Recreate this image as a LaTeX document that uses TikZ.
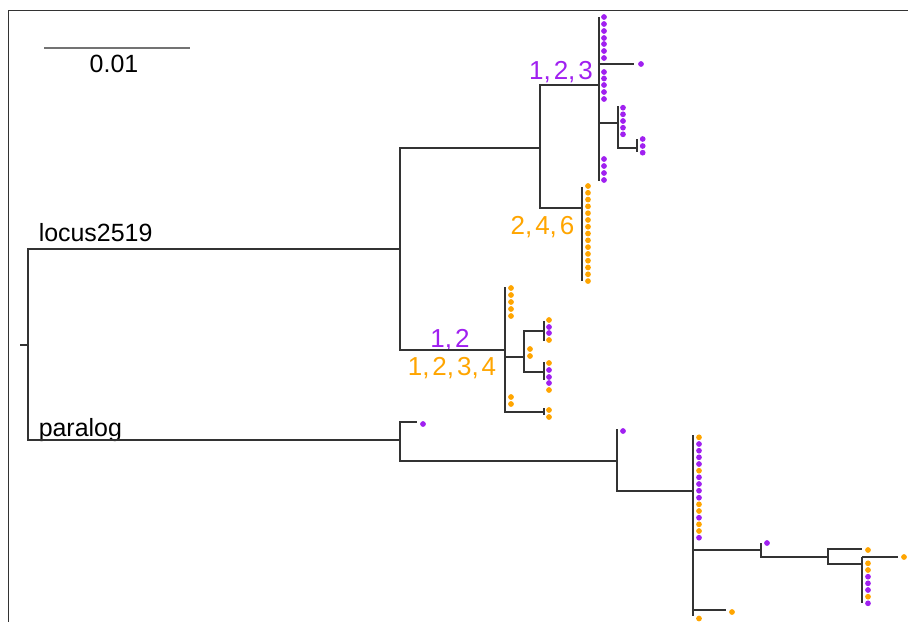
\documentclass[tikz,border=0pt]{standalone}
\usepackage{fontspec}
\setmainfont{Liberation Sans}[WordSpace=0.4]
\definecolor{pp}{HTML}{A020F0}
\definecolor{org}{HTML}{FFA500}
\newcommand\tipcol[2]{\foreach \yy/\cc in {#2}{\fill[\cc] (#1,\yy) circle[radius=2.15pt];}}
\begin{document}
\begin{tikzpicture}[x=0.75pt,y=-0.75pt,
  br/.style={line width=1pt,draw=black!80},
  frame/.style={line width=0.9pt,draw=black!80},
  lbl/.style={inner sep=0pt,font=\fontsize{18.7}{20}\selectfont},
  clbl/.style={inner sep=0pt,anchor=base,font=\fontsize{19.5}{21}\selectfont}]
\useasboundingbox (0,0) rectangle (908,622);
% frame
\coordinate (f1) at (8.3,622);
\coordinate (f2) at (8.3,10.7);
\coordinate (f3) at (908,10.7);
\draw[frame] (f1) -- (f2) -- (f3);
% scale bar
\coordinate (s1) at (44,48);
\coordinate (s2) at (190,48);
\draw[line width=1pt,draw=black!55] (s1) -- (s2);
\node[lbl,anchor=base] (sc) at (114,72) {0.01};
% labels
\node[lbl,anchor=base west] (lc) at (38.5,241) {locus2519};
\node[lbl,anchor=base west] (pl) at (38.5,436) {paralog};
\node[clbl,text=pp] (l123) at (561,79) {1, 2, 3};
\node[clbl,text=org] (l246) at (542.5,234) {2, 4, 6};
\node[clbl,text=pp] (l12) at (450,347) {1, 2};
\node[clbl,text=org] (l1234) at (452,375) {1, 2, 3, 4};
% internal nodes
\coordinate (Rs) at (20,345);
\coordinate (R) at (28,345);
\coordinate (L) at (400,249);
\coordinate (P) at (400,440);
\coordinate (A) at (540,148);
\coordinate (B) at (505,350);
\coordinate (C) at (599,85);
\coordinate (Ct) at (599,17);
\coordinate (Cb) at (599,181);
\coordinate (C1) at (634,64);
\coordinate (E) at (618,123);
\coordinate (Et) at (618,106);
\coordinate (F) at (637,148);
\coordinate (Ft) at (637,139);
\coordinate (Fb) at (637,152);
\coordinate (D) at (582,208);
\coordinate (Dt) at (582,187);
\coordinate (Db) at (582,281);
\coordinate (Bt) at (505,287);
\coordinate (G) at (524,357);
\coordinate (I) at (544,331);
\coordinate (It) at (544,321);
\coordinate (Ib) at (544,341);
\coordinate (J) at (544,372);
\coordinate (Jt) at (544,362);
\coordinate (Jb) at (544,380);
\coordinate (H) at (544,412);
\coordinate (Ht) at (544,408);
\coordinate (Hb) at (544,415);
\coordinate (P1) at (417,422);
\coordinate (K) at (617,461);
\coordinate (Kt) at (617,429);
\coordinate (M) at (693,491);
\coordinate (Mt) at (693,435);
\coordinate (Mb) at (693,616);
\coordinate (M1) at (726,610);
\coordinate (N) at (761,550);
\coordinate (Nt) at (761,543);
\coordinate (Q) at (828,557);
\coordinate (Q1) at (862,549);
\coordinate (S) at (862,564);
\coordinate (St) at (862,557);
\coordinate (Sb) at (862,603);
\coordinate (S1) at (898,557);
% branches
\draw[br] (Rs) -- (R);
\draw[br] (R) |- (L);
\draw[br] (R) |- (P);
\draw[br] (L) |- (A);
\draw[br] (L) |- (B);
\draw[br] (A) |- (C);
\draw[br] (A) |- (D);
\draw[br] (Ct) -- (Cb);
\draw[br] (C1 -| C) -- (C1);
\draw[br] (E -| C) -- (E);
\draw[br] (Et) -- (E) |- (F);
\draw[br] (Ft) -- (Fb);
\draw[br] (Dt) -- (Db);
\draw[br] (Bt) -- (B) |- (H);
\draw[br] (G -| B) -- (G);
\draw[br] (G) |- (I);
\draw[br] (G) |- (J);
\draw[br] (It) -- (Ib);
\draw[br] (Jt) -- (Jb);
\draw[br] (Ht) -- (Hb);
\draw[br] (P) |- (P1);
\draw[br] (P) |- (K);
\draw[br] (Kt) -- (K) |- (M);
\draw[br] (Mt) -- (Mb);
\draw[br] (N -| M) -- (N);
\draw[br] (M1 -| M) -- (M1);
\draw[br] (Nt) -- (N) |- (Q);
\draw[br] (Q) |- (Q1);
\draw[br] (Q) |- (S);
\draw[br] (St) -- (Sb);
\draw[br] (St) -- (S1);
% tip dots
\tipcol{604}{17/pp,24/pp,31/pp,38/pp,44/pp,51/pp,58/pp,72/pp,78.5/pp,85/pp,92/pp,99/pp,159/pp,166/pp,173/pp,180/pp}
\tipcol{641}{64/pp}
\tipcol{623}{107.7/pp,114.3/pp,121/pp,127.7/pp,134.3/pp}
\tipcol{642.7}{139/pp,146/pp,152.7/pp}
\foreach \k in {0,...,14}{\fill[org] (588,186+6.79*\k) circle[radius=2.15pt];}
\tipcol{511}{288/org,295/org,302/org,309/org,316/org,397/org,404/org}
\tipcol{530}{349/org,356/org}
\tipcol{549}{320/org,327/pp,333/pp,340/org,363/org,370/pp,377/pp,383/pp,390/org,410/org,417/org}
\tipcol{423}{424/pp}
\tipcol{623}{431/pp}
\tipcol{699}{437.3/org,444/pp,450.7/pp,457.3/pp,464/pp,470.7/org,477.3/pp,484/pp,490.7/pp,497.7/pp,504.3/org,511/org,517.7/pp,524.3/org,531/org,537.7/pp,618.5/org}
\tipcol{732}{612/org}
\tipcol{767}{543/pp}
\tipcol{868}{550/org,563.3/org,570/org,576.7/pp,583.3/pp,590/pp,596.7/org,603.3/pp}
\tipcol{904}{557/org}
\end{tikzpicture}
\end{document}
